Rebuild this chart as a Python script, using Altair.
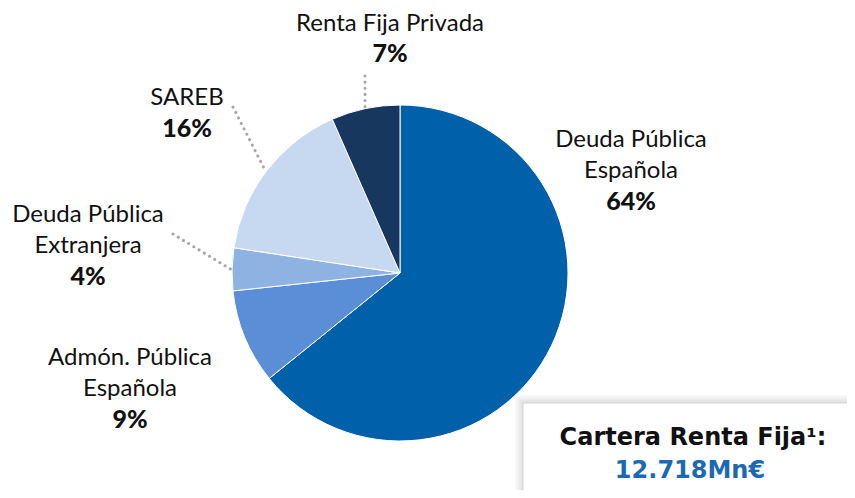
import altair as alt
import pandas as pd

# ---- data ----
categories = ["Deuda Pública Española", "Admón. Pública Española",
              "Deuda Pública Extranjera", "SAREB", "Renta Fija Privada"]
shares = [64.2, 9.1, 4.1, 16.0, 6.6]
pct_labels = ["64%", "9%", "4%", "16%", "7%"]
name_lines = [["Deuda Pública", "Española"], ["Admón. Pública", "Española"],
              ["Deuda Pública", "Extranjera"], ["SAREB"], ["Renta Fija Privada"]]
box_title = "Cartera Renta Fija¹:"
box_value = "12.718Mn€"

# ---- styling / layout ----
colors = ["#0060AA", "#5A8ED6", "#8EB3E3", "#C7D9F1", "#17375E"]
FONT = "Lato"
FS = 24
LH = 31
CX, CY, R = 392, 265, 168
# label anchor (center x, first line y) in chart pixel coords
label_pos = [(623, 132), (122, 350), (80, 207), (179, 90), (382, 16)]
label_lh = [LH, LH, LH, LH, 30]
leaders = [(357, 68, 357, 101), (225, 99, 258, 164), (165, 226, 224, 262)]

df = pd.DataFrame({"cat": categories, "share": shares, "idx": list(range(len(categories)))})

pie = alt.Chart(df).mark_arc(outerRadius=R, stroke="white", strokeWidth=1).encode(
    theta=alt.Theta("share:Q", stack=True),
    color=alt.Color("cat:N", scale=alt.Scale(domain=categories, range=colors), legend=None),
    order=alt.Order("idx:Q"),
    x=alt.value(CX), y=alt.value(CY),
)

rows_name, rows_pct = [], []
for i, cat in enumerate(categories):
    x0, y0 = label_pos[i]
    for j, line in enumerate(name_lines[i]):
        rows_name.append({"t": line, "x": x0, "y": y0 + j * label_lh[i]})
    rows_pct.append({"t": pct_labels[i], "x": x0, "y": y0 + len(name_lines[i]) * label_lh[i]})

names = alt.Chart(pd.DataFrame(rows_name)).mark_text(
    font=FONT, fontSize=FS, color="#111111", baseline="middle", align="center"
).encode(x=alt.X("x:Q", scale=None), y=alt.Y("y:Q", scale=None), text="t:N")

pcts = alt.Chart(pd.DataFrame(rows_pct)).mark_text(
    font=FONT, fontSize=25, fontWeight=900, color="#111111", baseline="middle", align="center"
).encode(x=alt.X("x:Q", scale=None), y=alt.Y("y:Q", scale=None), text="t:N")

ldf = pd.DataFrame([{"x": a, "y": b, "x2": c, "y2": d} for a, b, c, d in leaders])
lead = alt.Chart(ldf).mark_rule(color="#A6A6A6", strokeWidth=3, strokeDash=[0.1, 6],
                                strokeCap="round").encode(
    x=alt.X("x:Q", scale=None), y=alt.Y("y:Q", scale=None),
    x2="x2:Q", y2="y2:Q")

# box with soft shadow
BX, BY = 515, 395
shadow_layers = []
for k in range(5, 0, -1):
    shadow_layers.append(
        alt.Chart(pd.DataFrame({"a": [0]})).mark_rect(color="#808080", opacity=0.05).encode(
            x=alt.value(BX - k * 1.6), y=alt.value(BY - k * 1.6),
            x2=alt.value(900), y2=alt.value(600)))
box = alt.Chart(pd.DataFrame({"a": [0]})).mark_rect(
    color="white", stroke="#D4D4D4", strokeWidth=1).encode(
    x=alt.value(BX), y=alt.value(BY), x2=alt.value(900), y2=alt.value(600))

BOXFONT = "DejaVu Sans"
bt = alt.Chart(pd.DataFrame({"t": [box_title]})).mark_text(
    font=BOXFONT, fontSize=24, fontWeight="bold", color="#111111", baseline="middle", align="center"
).encode(x=alt.value(685), y=alt.value(430), text="t:N")
bv = alt.Chart(pd.DataFrame({"t": [box_value]})).mark_text(
    font=BOXFONT, fontSize=24, fontWeight="bold", color="#1B69B2", baseline="middle", align="center"
).encode(x=alt.value(682), y=alt.value(463), text="t:N")

chart = alt.layer(pie, lead, names, pcts, *shadow_layers, box, bt, bv).properties(
    width=839, height=482, autosize=alt.AutoSizeParams(type="none"), padding=0
).configure_view(stroke=None)

chart.save("out.html", embed_options={"renderer": "svg", "actions": False})
